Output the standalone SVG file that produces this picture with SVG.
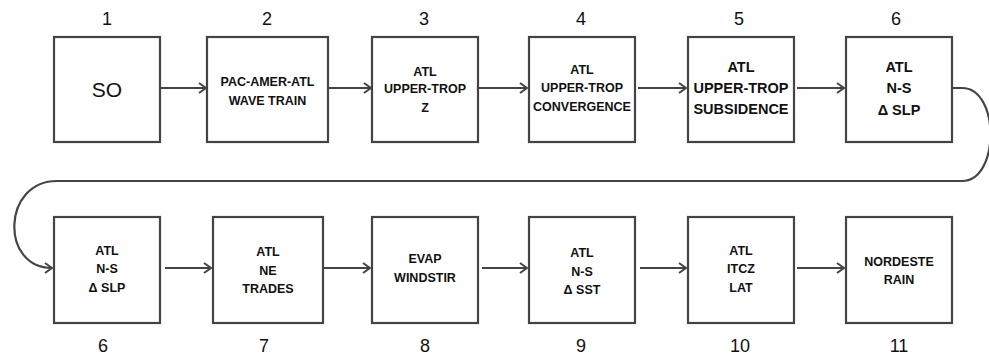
<svg xmlns="http://www.w3.org/2000/svg" width="989" height="358" viewBox="0 0 989 358">
<defs>
<marker id="arr" markerWidth="12" markerHeight="12" refX="9" refY="6" orient="auto" markerUnits="userSpaceOnUse">
<path d="M2,1 L9,6 L2,11" fill="none" stroke="#444" stroke-width="2"/>
</marker>
<style>
.box{fill:#fff;stroke:#444;stroke-width:2.2}
.t{font-family:"Liberation Sans",Arial,sans-serif;font-weight:bold;font-size:12.5px;text-anchor:middle;fill:#111}
.tb{font-family:"Liberation Sans",Arial,sans-serif;font-weight:bold;font-size:14.5px;text-anchor:middle;fill:#111}
.n{font-family:"Liberation Sans",Arial,sans-serif;font-size:18px;text-anchor:middle;fill:#111}
.c{fill:none;stroke:#444;stroke-width:2.2}
</style>
</defs>
<rect width="989" height="358" fill="#fff"/>
<g id="connectors">
<path class="c" d="M160,88 L206,88" marker-end="url(#arr)"/>
<path class="c" d="M328,88 L371,88" marker-end="url(#arr)"/>
<path class="c" d="M479,88 L527,88" marker-end="url(#arr)"/>
<path class="c" d="M638,88 L686,88" marker-end="url(#arr)"/>
<path class="c" d="M797,88 L844,88" marker-end="url(#arr)"/>
<path class="c" d="M952,88 L962,88 C1000,88 1000,181 962,181 L57,181 C2,181 0,268 52,268" marker-end="url(#arr)"/>
<path class="c" d="M165,268 L211,268" marker-end="url(#arr)"/>
<path class="c" d="M323,268 L370,268" marker-end="url(#arr)"/>
<path class="c" d="M482,268 L527,268" marker-end="url(#arr)"/>
<path class="c" d="M640,268 L686,268" marker-end="url(#arr)"/>
<path class="c" d="M797,268 L844,268" marker-end="url(#arr)"/>
</g>
<g id="n1">
<text class="n" x="107" y="25">1</text>
<rect class="box" x="54" y="37" width="106" height="105"/>
<text x="107" y="97" style="font-family:'Liberation Sans',Arial,sans-serif;font-size:21px;text-anchor:middle;fill:#111">SO</text>
</g>
<g id="n2">
<text class="n" x="267" y="25">2</text>
<rect class="box" x="207" y="37" width="121" height="105"/>
<text class="t" x="267.5" y="85.5">PAC-AMER-ATL</text>
<text class="t" x="267.5" y="104.5">WAVE TRAIN</text>
</g>
<g id="n3">
<text class="n" x="424" y="25">3</text>
<rect class="box" x="372" y="37" width="106" height="105"/>
<text class="t" x="425" y="75.5">ATL</text>
<text class="t" x="425" y="93">UPPER-TROP</text>
<text class="t" x="425" y="111.5">Z</text>
</g>
<g id="n4">
<text class="n" x="581" y="25">4</text>
<rect class="box" x="529" y="37" width="106" height="105"/>
<text class="t" x="582" y="73.5">ATL</text>
<text class="t" x="582" y="91.5">UPPER-TROP</text>
<text class="t" x="582" y="110.5">CONVERGENCE</text>
</g>
<g id="n5">
<text class="n" x="739" y="25">5</text>
<rect class="box" x="688" y="37" width="106" height="105"/>
<text class="tb" x="741" y="72">ATL</text>
<text class="tb" x="741" y="93">UPPER-TROP</text>
<text class="tb" x="741" y="114">SUBSIDENCE</text>
</g>
<g id="n6">
<text class="n" x="896" y="25">6</text>
<rect class="box" x="846" y="37" width="106" height="105"/>
<text class="tb" x="899" y="72">ATL</text>
<text class="tb" x="899" y="93">N-S</text>
<text class="tb" x="899" y="115">Δ SLP</text>
</g>
<g id="n6b">
<rect class="box" x="54" y="217" width="106" height="106"/>
<text class="t" x="107" y="255">ATL</text>
<text class="t" x="107" y="273">N-S</text>
<text class="t" x="107" y="292">Δ SLP</text>
<text class="n" x="103" y="352">6</text>
</g>
<g id="n7">
<rect class="box" x="213" y="217" width="110" height="106"/>
<text class="t" x="268" y="256">ATL</text>
<text class="t" x="268" y="275">NE</text>
<text class="t" x="268" y="293">TRADES</text>
<text class="n" x="264" y="352">7</text>
</g>
<g id="n8">
<rect class="box" x="372" y="217" width="106" height="106"/>
<text class="t" x="425" y="262.5">EVAP</text>
<text class="t" x="425" y="281.5">WINDSTIR</text>
<text class="n" x="425" y="352">8</text>
</g>
<g id="n9">
<rect class="box" x="529" y="217" width="106" height="106"/>
<text class="t" x="582" y="256.5">ATL</text>
<text class="t" x="582" y="275.5">N-S</text>
<text class="t" x="582" y="293.5">Δ SST</text>
<text class="n" x="581" y="352">9</text>
</g>
<g id="n10">
<rect class="box" x="688" y="217" width="106" height="106"/>
<text class="t" x="741" y="254.5">ATL</text>
<text class="t" x="741" y="272.5">ITCZ</text>
<text class="t" x="741" y="291.5">LAT</text>
<text class="n" x="740" y="352">10</text>
</g>
<g id="n11">
<rect class="box" x="846" y="217" width="106" height="106"/>
<text class="t" x="899" y="265.5">NORDESTE</text>
<text class="t" x="899" y="283.5">RAIN</text>
<text class="n" x="899" y="352">11</text>
</g>
</svg>
